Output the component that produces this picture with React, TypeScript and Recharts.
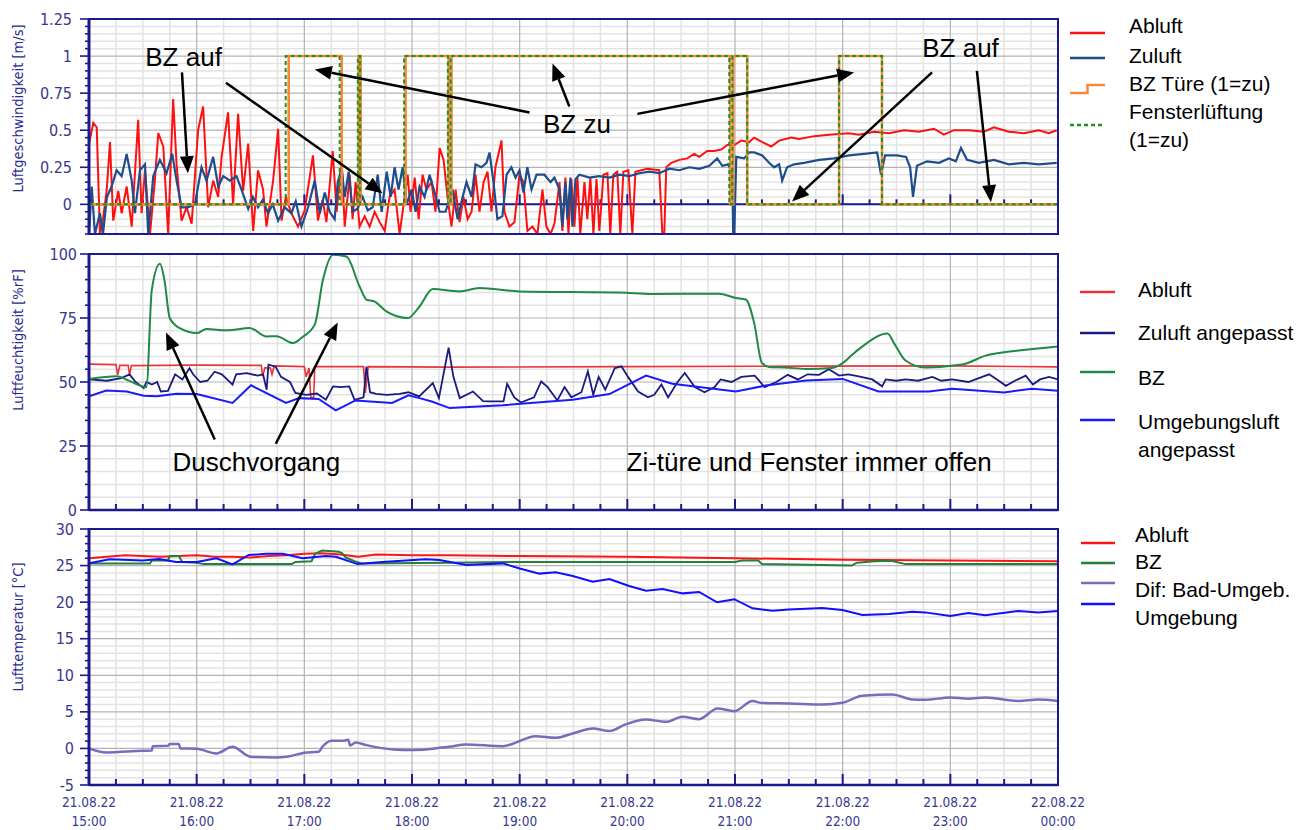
import React from 'react'
import {
  LineChart,
  Line,
  XAxis,
  YAxis,
  ReferenceLine,
  ReferenceArea,
  ReferenceDot,
} from 'recharts'

type Pt = [number, number]

const NAVY = '#1a1a8c'
const TICK_TEXT = '#38388e'
const GRID_MINOR = '#e3e3e3'
const GRID_MAJOR = '#b3b3b3'
const TICK_FONT = "'DejaVu Sans Condensed', 'DejaVu Sans', Verdana, sans-serif"
const TEXT_FONT = "'Liberation Sans', Arial, Helvetica, sans-serif"
const T_END = 540

// time axis: minutes after 21.08.22 15:00
const dateLabels = ['21.08.22', '21.08.22', '21.08.22', '21.08.22', '21.08.22', '21.08.22', '21.08.22', '21.08.22', '21.08.22', '22.08.22']
const hourLabels = ['15:00', '16:00', '17:00', '18:00', '19:00', '20:00', '21:00', '22:00', '23:00', '00:00']

// panel 1: Luftgeschwindigkeit [m/s]
const speedAbluft: Pt[] = [
  [0, 0.41], [2.4, 0.55], [4.3, 0.52], [6.1, -0.2], [7.8, -0.1], [9.9, 0.1], [11.7, 0.42], [13.5, -0.11], [16.3, 0.09], [18.2, -0.06],
  [21, 0.12], [23.8, -0.15], [27.4, 0.57], [29.3, -0.06], [31.2, 0.23], [34, -0.2], [36.7, 0.16], [38.6, 0.48], [41.4, 0.39], [44.1, -0.2],
  [46.9, 0.71], [48.8, 0.27], [51.6, -0.11], [54.4, -0.02], [57.2, -0.13], [60.8, 0.5], [63.6, 0.66], [66.4, -0.02], [69.2, 0.16], [72, 0.05],
  [73.9, 0.32], [77.5, 0.62], [80.3, 0], [83.1, 0.61], [85.9, 0.09], [88.7, 0.41], [91.5, -0.18], [94.2, 0.23], [97, 0.1], [98.9, -0.15],
  [102.6, 0.16], [105.4, 0.51], [107.3, -0.11], [109.7, 0.05], [112.8, -0.06], [116.5, -0.15], [120.2, -0.04], [124.8, 0.33], [127.6, -0.11], [130.2, 0.03],
  [132.3, -0.12], [135.8, 0.36], [138, -0.05], [140.8, 0.3], [142.5, -0.15], [145.3, 0.2], [146.9, -0.1], [148.6, 0.15], [150.8, -0.15], [153.6, -0.08],
  [156.4, -0.15], [159.2, -0.05], [162, -0.12], [164.8, -0.18], [167.5, 0.05], [170.3, 0.1], [173.1, -0.2], [175.9, 0.05], [177.6, 0.2], [179.2, -0.05],
  [181.5, 0.18], [183.7, -0.1], [185.9, 0.2], [188.1, 0.1], [190.9, 0.15], [193.1, -0.05], [195.4, 0.38], [197.6, 0.3], [199.8, 0.05], [202, -0.15],
  [204.3, 0.1], [206.5, -0.12], [208.7, 0.05], [211, -0.1], [213.2, -0.05], [215.4, 0.2], [217.6, -0.05], [219.9, 0.15], [222.1, 0.22], [224.3, -0.05],
  [226.5, 0.25], [229.9, 0.43], [231.5, -0.05], [234.3, -0.15], [237.1, -0.12], [239.9, 0.2], [242.1, 0.15], [244.3, -0.18], [247.1, -0.15], [249.9, -0.2],
  [252.7, 0.1], [254.9, -0.15], [257.2, -0.2], [259.4, -0.13], [262.2, 0.15], [263.8, -0.18], [265.5, 0.18], [267.2, -0.2], [268.8, 0.17], [270.5, -0.15],
  [272.2, 0.18], [273.8, -0.2], [276.1, 0.15], [277.7, -0.1], [279.4, 0.18], [281.1, -0.2], [282.8, 0.17], [284.4, -0.18], [286.7, 0.2], [288.9, 0.21],
  [290.5, -0.2], [292.2, 0.2], [294.4, 0.22], [296.1, -0.2], [297.8, 0.22], [300.6, 0.23], [302.8, -0.2], [304.5, 0.22], [307.8, 0.23], [311.1, 0.24],
  [317.8, 0.23], [319.5, -0.2], [320.6, -0.2], [321.7, 0.25], [324.5, 0.28], [329, 0.3], [333.4, 0.31], [337.3, 0.34], [340.1, 0.32], [344.5, 0.36],
  [348.4, 0.36], [352.3, 0.37], [355.7, 0.4], [359.6, 0.4], [363.5, 0.43], [367.9, 0.42], [370.7, 0.45], [375.2, 0.42], [380.2, 0.39], [384.6, 0.43],
  [391.3, 0.45], [395.7, 0.44], [404.1, 0.46], [412.4, 0.47], [423.6, 0.48], [429.1, 0.47], [437.5, 0.49], [445.8, 0.48], [454.2, 0.5], [462.5, 0.49],
  [470.9, 0.51], [476.4, 0.47], [482, 0.5], [490.3, 0.5], [498.7, 0.49], [504.3, 0.52], [512.6, 0.49], [521, 0.48], [529.3, 0.5], [534.9, 0.48], [539.3, 0.5],
]
const speedZuluft: Pt[] = [
  [0, -0.2], [1.5, 0.12], [3.3, -0.2], [6.1, -0.06], [7.8, -0.2], [10, 0.05], [12.6, 0.12], [15.4, 0.23], [18.2, 0.19], [21, 0.34],
  [23.8, 0.16], [25.6, -0.06], [28.4, 0.23], [31.2, 0.27], [33, -0.2], [35.8, 0.19], [39.5, 0.3], [43.2, 0.21], [46.4, 0.34], [48.8, 0.16],
  [51.6, -0.02], [55.1, -0.02], [59, 0], [62.7, 0.25], [65.5, 0.16], [69.2, 0.32], [72, 0.12], [74.8, 0.19], [78.5, 0.16], [82.2, 0.19],
  [85, 0.1], [88.7, -0.03], [91.3, 0.05], [94.2, -0.02], [96.8, 0.03], [99.8, -0.06], [102.4, 0], [105.4, -0.11], [109.1, -0.02], [112.8, -0.06],
  [115.2, 0.02], [118.4, -0.15], [122.1, -0.02], [125.8, 0.16], [128.6, -0.06], [131.4, 0.08], [134.1, -0.05], [136.9, -0.1], [138.6, 0.15], [140.8, 0.24],
  [142.5, 0.05], [144.7, 0.22], [146.9, -0.05], [149.7, -0.03], [152.5, 0.05], [155.3, -0.04], [158.1, -0.02], [160.9, 0.2], [163.1, -0.05], [165.9, 0.22],
  [168.1, 0.05], [170.3, 0.25], [172.5, 0.1], [174.8, 0.25], [177, 0], [179.8, 0.1], [182, -0.05], [184.2, 0.12], [187, 0.05], [189.8, 0.2],
  [192.6, 0.08], [195.4, -0.05], [198.7, -0.05], [202.6, 0.1], [205.4, -0.1], [208.2, 0.05], [210.4, 0.15], [213.2, 0.05], [215.4, 0.27], [218.7, 0.25],
  [221.5, 0.28], [223.2, 0.35], [225.4, 0.15], [227.6, -0.1], [230.4, -0.08], [232.7, 0.2], [235.4, 0.25], [237.7, 0.18], [239.9, 0.23], [242.1, 0.08],
  [244.3, 0.25], [246.6, 0.1], [249.4, 0.2], [253.8, 0.2], [257.2, 0.15], [259.4, 0.18], [262.2, 0.1], [263.8, -0.15], [265.5, 0.15], [266.6, -0.1],
  [268.3, 0.18], [269.4, -0.15], [271.1, 0.17], [273.3, 0.2], [278.9, 0.18], [284.4, 0.19], [290, 0.18], [295.6, 0.2], [301.1, 0.19], [306.7, 0.21],
  [312.3, 0.22], [317.8, 0.21], [323.4, 0.24], [329, 0.23], [334.5, 0.25], [340.1, 0.24], [345.7, 0.26], [350.1, 0.31], [352.9, 0.26], [356.2, 0.27],
  [358.5, 0.2], [359, -0.2], [359.6, -0.2], [360.7, 0.32], [365.1, 0.31], [367.9, 0.35], [370.7, 0.35], [375.2, 0.33], [379, 0.28], [381.8, 0.25],
  [384.6, 0.27], [386.3, 0.16], [389, 0.25], [392.9, 0.27], [398.5, 0.28], [406.9, 0.3], [415.2, 0.31], [423.6, 0.33], [431.9, 0.34], [439.2, 0.35],
  [441.4, 0.2], [443.6, 0.33], [450.3, 0.33], [455.3, 0.32], [457.6, 0.25], [459.2, 0.05], [461.4, 0.26], [467, 0.29], [473.7, 0.28], [479.2, 0.31],
  [483.1, 0.29], [485.9, 0.38], [489.3, 0.3], [495.9, 0.28], [504.3, 0.3], [512.6, 0.27], [521, 0.28], [529.3, 0.27], [539.3, 0.28],
]
const doorState: Pt[] = [
  [0, 0], [111.3, 1], [140.8, 0], [150.3, 1], [151.4, 0], [176.4, 1], [200.4, 0], [202, 1], [357.3, 0], [359, 1], [366.8, 0], [418, 1], [441.9, 0], [540, 0],
]
const windowState: Pt[] = [
  [0, 0], [109.6, 1], [139.7, 0], [149.8, 1], [151, 0], [175.6, 1], [200, 0], [201.5, 1], [356.8, 0], [358.5, 1], [366.8, 0], [418, 1], [441.9, 0], [540, 0],
]

// panel 2: Luftfeuchtigkeit [%rF]
const humAbluft: Pt[] = [
  [0, 57], [15, 56.8], [16, 52.8], [17.2, 56.5], [21.8, 56.5], [22.6, 52.8], [23.6, 56.4], [60, 56.6], [96, 56.5], [96.8, 52.2],
  [98, 55.5], [101, 55.5], [102, 53], [103.2, 56.3], [120, 56], [121, 52], [122.6, 55.5], [123.6, 43.9], [125.2, 43.9], [125.8, 56],
  [153, 56], [154, 45.7], [155.6, 56], [200, 55.8], [300, 56], [400, 56.2], [480, 56.3], [540, 55.9],
]
const humZuluft: Pt[] = [
  [0, 51], [10, 50.5], [18, 51.5], [22.6, 53], [26, 50], [30.5, 47.6], [32, 50], [35, 49], [38, 50], [40, 46.3],
  [44, 46.5], [48, 53], [52, 51], [56, 55.4], [58, 53], [62, 50], [66, 50.5], [70, 54], [74, 53], [80, 49],
  [82, 53], [88, 53.5], [94, 52.5], [97, 53], [99, 47], [100, 56.8], [104, 56], [107, 52], [112, 50], [115, 45.7],
  [121, 45], [127, 45.5], [132, 43.1], [136, 48.3], [140, 48], [145, 48.3], [148, 43], [153, 44], [154.6, 56], [156.6, 46],
  [160, 45.4], [166, 45], [173, 45.4], [178, 46], [184, 44.4], [191.6, 49.6], [195, 43.7], [200.4, 63.4], [203, 52.2], [206.6, 43.7],
  [214, 46.3], [219.6, 42.5], [223, 42.4], [231, 42.4], [233, 49.3], [237, 44], [240.7, 42], [248, 44], [252, 50.2], [255.6, 48],
  [261, 42.8], [265, 48], [268.8, 44], [274.4, 46], [278, 54.1], [281, 45], [284, 52], [287.7, 47], [293, 55.4], [296.7, 56.1],
  [300.4, 52], [306, 46.3], [311.5, 44], [315, 45], [319, 49], [322.7, 44], [328, 50], [332, 53.5], [337.6, 48], [343, 46],
  [348.6, 48], [352, 51], [358, 50], [363.5, 52], [371, 52.5], [376.5, 48], [383, 50], [389.4, 52.8], [395, 51], [400.5, 53],
  [406.8, 52.8], [412.3, 55], [418, 52.5], [423, 53], [429, 52.2], [436.5, 51], [442, 48.3], [444, 51], [450, 50.5], [455, 51],
  [462, 50.5], [470, 52], [475, 50.5], [481, 51], [490, 50], [501.6, 53], [506, 51], [511, 48.5], [516, 50.5], [522, 52.5],
  [526, 49], [530, 51], [535, 52], [540, 51],
]
const humBZ: Pt[] = [
  [0, 51.2], [15.5, 52.2], [21, 50.9], [30, 48.3], [32, 48], [35, 86], [39.5, 96.2], [42, 90], [45, 75], [50.6, 71],
  [60, 69.1], [65.5, 70.7], [76.6, 70.2], [89.6, 71.1], [98.9, 67.8], [104.5, 67.9], [113.7, 65.2], [119, 67.6], [125.8, 72.4], [130.4, 90],
  [136, 99.7], [143.4, 99], [150.8, 87.3], [154.6, 82.2], [159.2, 81.4], [165.7, 77.6], [177.7, 75], [184.2, 79.5], [191.6, 86.3], [206.5, 85.4],
  [217.6, 86.7], [240, 85.4], [295.5, 85], [314, 84.4], [351, 84.5], [360.5, 82.8], [366, 82.2], [370.7, 73], [375, 57.4], [379, 55.9],
  [388, 55.7], [399.5, 55.1], [414, 55.5], [420, 57.4], [425.4, 60.7], [431, 63.9], [445, 68.9], [448.6, 65.2], [455, 58.4], [466, 55.7],
  [486.6, 56.8], [499.6, 60.3], [518, 62.3], [540, 63.9],
]
const humUmgebung: Pt[] = [
  [0, 44.4], [9.6, 46.7], [21, 46.3], [30.5, 44.6], [37.8, 44.4], [48.8, 45.4], [60, 45.3], [80, 41.8], [90.3, 48.7], [109.8, 41.8],
  [117, 43.7], [128, 43.4], [137.5, 38.9], [148.5, 42.8], [168.9, 41.8], [178, 44.8], [184.2, 43.7], [191, 42.4], [201, 39.8], [230.5, 40.9],
  [269.5, 43.1], [290, 45.3], [310.4, 52.5], [325, 49.3], [360.5, 46.3], [377, 48.6], [399.5, 50.6], [420, 51.2], [440, 46.3], [468, 46.3],
  [481, 47.4], [510, 45.9], [525.5, 47.4], [540, 46.6],
]

// panel 3: Lufttemperatur [°C]
const tempAbluft: Pt[] = [
  [0, 26], [10, 26.2], [20, 26.4], [30, 26.3], [40, 26.2], [50, 26.3], [60, 26.4], [70, 26.2], [80, 26.2], [90, 26.1],
  [100, 26.3], [110, 26.4], [120, 26.6], [130, 26.7], [140, 26.5], [150, 26.2], [160, 26.5], [180, 26.4], [200, 26.4], [240, 26.3],
  [300, 26.2], [360, 26], [420, 25.8], [480, 25.7], [540, 25.6],
]
const tempBZ: Pt[] = [
  [0, 25.3], [34, 25.3], [35, 25.7], [44, 25.7], [45, 26.3], [50, 26.3], [52, 25.5], [60, 25.4], [64, 25.2], [113, 25.2],
  [115, 25.5], [124, 25.6], [126, 26.6], [130, 27.05], [139, 26.9], [141, 26.7], [143, 26.1], [148, 25.6], [152, 25.3], [200, 25.4],
  [240, 25.5], [360, 25.5], [364, 25.7], [373, 25.7], [375, 25.2], [425, 25], [428, 25.4], [438, 25.6], [447, 25.67], [455, 25.2], [540, 25.2],
]
const tempDif: Pt[] = [
  [0, 0], [9.6, -0.55], [30, -0.33], [35, -0.3], [35.5, 0.3], [44, 0.35], [45, 0.59], [50, 0.59], [51, 0], [60, -0.05],
  [71, -0.68], [80, 0.22], [90, -1.14], [104, -1.23], [111, -1.1], [120, -0.6], [128, -0.45], [130, 0.2], [135, 1.04], [141.6, 1.04],
  [144.5, 1.2], [145.5, 0.4], [148.6, 0.8], [154.6, 0.45], [169.5, -0.14], [180.6, -0.23], [191.6, -0.05], [195.3, 0.09], [200.6, 0.22], [210, 0.55],
  [230.6, 0.31], [249, 1.68], [260, 1.45], [269.5, 2.05], [280.7, 2.73], [290, 2.37], [299, 3.28], [310.4, 3.96], [321.5, 3.64], [330.8, 4.32],
  [340, 4], [350.2, 5.47], [359.6, 5.1], [369.8, 6.47], [375.3, 6.2], [390, 6.15], [408.7, 6], [419.8, 6.24], [431, 7.2], [447.6, 7.38],
  [458.8, 6.7], [466, 6.65], [480, 6.97], [490, 6.8], [499.6, 6.97], [518, 6.5], [529, 6.7], [540, 6.5],
]
const tempUmgebung: Pt[] = [
  [0, 25.3], [11.5, 25.85], [30, 25.7], [39, 25.9], [48.6, 25.5], [60, 25.5], [71, 26], [80, 25.17], [89, 26.45], [98.7, 26.6],
  [108, 26.6], [119, 26], [132, 26.3], [137.6, 26.2], [149.6, 25.2], [163.5, 25.5], [187.5, 25.85], [195.3, 25.76], [210.3, 25.08], [230.6, 25.3],
  [240, 24.6], [251, 23.9], [260, 24.1], [269.6, 23.57], [280.7, 22.8], [290, 23.16], [301, 22.2], [310.4, 21.57], [319.7, 21.8], [330.8, 21.2],
  [340, 21.4], [350, 19.98], [359.6, 20.4], [369.8, 19.16], [380.9, 18.83], [390, 19], [408.7, 19.2], [419.8, 18.93], [431, 18.24], [445.8, 18.38],
  [458.8, 18.7], [466, 18.6], [480, 18.1], [490, 18.5], [499.6, 18.2], [518, 18.8], [529, 18.6], [540, 18.8],
]

// annotations: [from t, from v, to t, to v]
const speedArrows: number[][] = [
  [51.8, 0.89, 55.1, 0.21], [76.3, 0.82, 163.6, 0.074], [245.5, 0.62, 125.8, 0.91], [267.7, 0.66, 258.3, 0.95],
  [305.6, 0.61, 426.4, 0.89], [469.8, 0.89, 391.8, 0.02], [494.8, 0.9, 502.6, 0.014],
]
const speedNotes = [
  { t: 52.7, v: 0.932, text: 'BZ auf' },
  { t: 271.9, v: 0.478, text: 'BZ zu' },
  { t: 485.7, v: 0.995, text: 'BZ auf' },
]
const humArrows: number[][] = [
  [70.1, 27.5, 42.9, 69.3], [104.1, 25.9, 138.6, 73.2],
]
const humNotes = [
  { t: 93.3, v: 15.1, text: 'Duschvorgang' },
  { t: 401.3, v: 15.1, text: 'Zi-türe und Fenster immer offen' },
]

interface Series {
  name: string
  lines: string[]
  data: Pt[]
  color: string
  width: number
  dash?: string
  curve?: 'linear' | 'monotone' | 'stepAfter'
  stepIcon?: boolean
}

const speedSeries: Series[] = [
  { name: 'Abluft', lines: ['Abluft'], data: speedAbluft, color: '#ff1010', width: 2 },
  { name: 'Zuluft', lines: ['Zuluft'], data: speedZuluft, color: '#1f4d8c', width: 2.2 },
  { name: 'BZ Türe (1=zu)', lines: ['BZ Türe (1=zu)'], data: doorState, color: '#f7873a', width: 2.6, curve: 'stepAfter', stepIcon: true },
  { name: 'Fensterlüftung (1=zu)', lines: ['Fensterlüftung', '(1=zu)'], data: windowState, color: '#1e9420', width: 2, dash: '4 3', curve: 'stepAfter' },
]
const humSeries: Series[] = [
  { name: 'Abluft', lines: ['Abluft'], data: humAbluft, color: '#e8343a', width: 1.6 },
  { name: 'Zuluft angepasst', lines: ['Zuluft angepasst'], data: humZuluft, color: '#1a1a80', width: 1.8 },
  { name: 'BZ', lines: ['BZ'], data: humBZ, color: '#1f8a45', width: 2, curve: 'monotone' },
  { name: 'Umgebungsluft angepasst', lines: ['Umgebungsluft', 'angepasst'], data: humUmgebung, color: '#1a1aff', width: 2 },
]
const tempSeries: Series[] = [
  { name: 'Abluft', lines: ['Abluft'], data: tempAbluft, color: '#ff1414', width: 2 },
  { name: 'BZ', lines: ['BZ'], data: tempBZ, color: '#23803a', width: 2 },
  { name: 'Dif: Bad-Umgeb.', lines: ['Dif: Bad-Umgeb.'], data: tempDif, color: '#7b6bbd', width: 2.5, curve: 'monotone' },
  { name: 'Umgebung', lines: ['Umgebung'], data: tempUmgebung, color: '#1010ff', width: 2 },
]

function steps(from: number, to: number, step: number) {
  const out: number[] = []
  const n = Math.round((to - from) / step)
  for (let i = 0; i <= n; i++) out.push(Math.round((from + i * step) * 1000) / 1000)
  return out
}

const timeTicks = steps(0, T_END, 15)

function pts(a: Pt[]) {
  return a.map(([t, v]) => ({ t, v }))
}

function isMultiple(v: number, step: number) {
  return Math.abs(v / step - Math.round(v / step)) < 1e-6
}

function gridLines(yTicks: number[], yMajor: number) {
  const minor: React.ReactElement[] = []
  const major: React.ReactElement[] = []
  const lo = yTicks[0]
  const hi = yTicks[yTicks.length - 1]
  for (const t of timeTicks) {
    if (t <= 0 || t >= T_END) continue
    const maj = t % 60 === 0
    const el = (
      <ReferenceLine key={`gx${t}`} x={t} stroke={maj ? GRID_MAJOR : GRID_MINOR} strokeWidth={maj ? 1.2 : 1.5} zIndex={-100} />
    )
    if (maj) major.push(el)
    else minor.push(el)
  }
  for (const v of yTicks) {
    if (v <= lo || v >= hi) continue
    const maj = isMultiple(v, yMajor)
    const el = (
      <ReferenceLine key={`gy${v}`} y={v} stroke={maj ? GRID_MAJOR : GRID_MINOR} strokeWidth={maj ? 1.2 : 1.5} zIndex={-100} />
    )
    if (maj) major.push(el)
    else minor.push(el)
  }
  return [...minor, ...major]
}

function YTick(props: any) {
  const { x, y, payload, major, gap } = props
  const v = payload.value
  const maj = isMultiple(v, major)
  return (
    <g>
      <line x1={x} y1={y} x2={x - (maj ? 9 : 4)} y2={y} stroke={NAVY} strokeWidth={1.6} />
      {maj && (
        <text x={x - gap} y={y + 5.5} textAnchor="end" fontSize={16} fontFamily={TICK_FONT} fill={TICK_TEXT}>
          {String(v)}
        </text>
      )}
    </g>
  )
}

function XTick(props: any) {
  const { x, y, payload, labels } = props
  const t = payload.value
  const maj = t % 60 === 0
  const i = Math.round(t / 60)
  return (
    <g>
      <line x1={x} y1={y} x2={x} y2={y - (maj ? 11 : 6)} stroke={NAVY} strokeWidth={2} />
      {labels && maj && (
        <text x={x} y={y + 22} textAnchor="middle" fontSize={13.5} fontFamily={TICK_FONT} fill={TICK_TEXT}>
          <tspan x={x}>{dateLabels[i]}</tspan>
          <tspan x={x} dy={19}>{hourLabels[i]}</tspan>
        </text>
      )}
    </g>
  )
}

function YTitle(props: any) {
  const { viewBox, text, dy } = props
  const x = viewBox.x + 18
  const y = viewBox.y + viewBox.height / 2 + dy
  return (
    <text
      x={x}
      y={y}
      transform={`rotate(-90 ${x} ${y})`}
      textAnchor="middle"
      dominantBaseline="central"
      fontSize={14.5}
      fontFamily={TICK_FONT}
      fill="#2a2a90"
    >
      {text}
    </text>
  )
}

function ZeroAxis(props: any) {
  const { x1, x2, y1 } = props
  const span = x2 - x1
  return (
    <g>
      <line x1={x1} x2={x2} y1={y1} y2={y1} stroke={NAVY} strokeWidth={2} />
      {timeTicks.map((t) => {
        const x = x1 + (span * t) / T_END
        return <line key={t} x1={x} x2={x} y1={y1} y2={y1 - (t % 60 === 0 ? 10 : 5)} stroke={NAVY} strokeWidth={2} />
      })}
    </g>
  )
}

function Arrow(props: any) {
  const { x1, y1, x2, y2 } = props
  const ang = Math.atan2(y2 - y1, x2 - x1)
  const L = 17
  const Wd = 7
  const bx = x2 - L * Math.cos(ang)
  const by = y2 - L * Math.sin(ang)
  const px = -Math.sin(ang) * Wd
  const py = Math.cos(ang) * Wd
  return (
    <g>
      <line x1={x1} y1={y1} x2={bx} y2={by} stroke="#000" strokeWidth={2.5} />
      <polygon points={`${x2},${y2} ${bx + px},${by + py} ${bx - px},${by - py}`} fill="#000" />
    </g>
  )
}

function arrows(list: number[][], prefix: string) {
  return list.map((a, i) => (
    <ReferenceLine
      key={`${prefix}${i}`}
      segment={[{ x: a[0], y: a[1] }, { x: a[2], y: a[3] }]}
      shape={(p: any) => <Arrow {...p} />}
      zIndex={1500}
    />
  ))
}

function notes(list: { t: number; v: number; text: string }[], prefix: string) {
  return list.map((n, i) => (
    <ReferenceDot
      key={`${prefix}${i}`}
      x={n.t}
      y={n.v}
      r={0}
      zIndex={1500}
      shape={(p: any) => (
        <text x={p.cx} y={p.cy} textAnchor="middle" fontSize={26} fontFamily={TEXT_FONT} fill="#000">
          {n.text}
        </text>
      )}
    />
  ))
}

function seriesLines(list: Series[]) {
  return list.map((s) => (
    <Line
      key={s.name}
      name={s.name}
      data={pts(s.data)}
      dataKey="v"
      type={s.curve ?? 'linear'}
      stroke={s.color}
      strokeWidth={s.width}
      strokeDasharray={s.dash}
      dot={false}
      activeDot={false}
      isAnimationActive={false}
    />
  ))
}

function frame(lo: number, hi: number) {
  return (
    <ReferenceArea x1={0} x2={T_END} y1={lo} y2={hi} fill="none" stroke={NAVY} strokeWidth={2} zIndex={1400} />
  )
}

const speedTicks = steps(-0.2, 1.25, 0.05)
const humTicks = steps(0, 100, 5)
const tempTicks = steps(-5, 30, 1)

const MARGIN_RIGHT = 256

function SpeedChart() {
  return (
    <LineChart width={1314} height={250} margin={{ top: 19, right: MARGIN_RIGHT, bottom: 16, left: 0 }}>
      <XAxis dataKey="t" type="number" domain={[0, T_END]} ticks={timeTicks} allowDataOverflow hide />
      <YAxis
        type="number"
        domain={[-0.2, 1.25]}
        ticks={speedTicks}
        interval={0}
        allowDataOverflow
        width={89}
        tickSize={0}
        tickMargin={0}
        axisLine={{ stroke: NAVY, strokeWidth: 3 }}
        tick={<YTick major={0.25} gap={17} />}
        label={<YTitle text="Luftgeschwindigkeit [m/s]" dy={-18} />}
      />
      {gridLines(speedTicks, 0.25)}
      <ReferenceLine y={0} shape={(p: any) => <ZeroAxis {...p} />} zIndex={50} />
      {seriesLines(speedSeries)}
      {frame(-0.2, 1.25)}
      {arrows(speedArrows, 'sa')}
      {notes(speedNotes, 'sn')}
    </LineChart>
  )
}

function HumidityChart() {
  return (
    <LineChart width={1314} height={285} margin={{ top: 14, right: MARGIN_RIGHT, bottom: 14, left: 0 }}>
      <XAxis
        dataKey="t"
        type="number"
        domain={[0, T_END]}
        ticks={timeTicks}
        interval={0}
        allowDataOverflow
        height={1}
        tickSize={0}
        tickMargin={0}
        axisLine={{ stroke: NAVY, strokeWidth: 2.5 }}
        tick={<XTick labels={false} />}
      />
      <YAxis
        type="number"
        domain={[0, 100]}
        ticks={humTicks}
        interval={0}
        allowDataOverflow
        width={89}
        tickSize={0}
        tickMargin={0}
        axisLine={{ stroke: NAVY, strokeWidth: 3 }}
        tick={<YTick major={25} gap={12} />}
        label={<YTitle text="Luftfeuchtigkeit [%rF]" dy={-42} />}
      />
      {gridLines(humTicks, 25)}
      {seriesLines(humSeries)}
      {frame(0, 100)}
      {arrows(humArrows, 'ha')}
      {notes(humNotes, 'hn')}
    </LineChart>
  )
}

function TempChart() {
  return (
    <LineChart width={1314} height={315} margin={{ top: 14, right: MARGIN_RIGHT, bottom: 0, left: 0 }}>
      <XAxis
        dataKey="t"
        type="number"
        domain={[0, T_END]}
        ticks={timeTicks}
        interval={0}
        allowDataOverflow
        height={45}
        tickSize={0}
        tickMargin={0}
        axisLine={{ stroke: NAVY, strokeWidth: 2.5 }}
        tick={<XTick labels />}
      />
      <YAxis
        type="number"
        domain={[-5, 30]}
        ticks={tempTicks}
        interval={0}
        allowDataOverflow
        width={89}
        tickSize={0}
        tickMargin={0}
        axisLine={{ stroke: NAVY, strokeWidth: 3 }}
        tick={<YTick major={5} gap={15} />}
        label={<YTitle text="Lufttemperatur [°C]" dy={-30} />}
      />
      {gridLines(tempTicks, 5)}
      {seriesLines(tempSeries)}
      {frame(-5, 30)}
    </LineChart>
  )
}

interface LegendLayout {
  x0: number
  x1: number
  textX: number
  iconYs: number[]
  textYs: number[][]
}

const speedLegend: LegendLayout = { x0: 1070, x1: 1105, textX: 1129, iconYs: [33, 58, 89, 125], textYs: [[33], [63], [91], [119, 147]] }
const humLegend: LegendLayout = { x0: 1080, x1: 1115, textX: 1138, iconYs: [292, 333, 372, 420], textYs: [[297], [340], [385], [429, 457]] }
const tempLegend: LegendLayout = { x0: 1081, x1: 1115, textX: 1135, iconYs: [543, 563, 583, 604], textYs: [[542], [569], [597], [625]] }

function LegendBlock({ series, layout }: { series: Series[]; layout: LegendLayout }) {
  const { x0, x1, textX, iconYs, textYs } = layout
  return (
    <g>
      {series.map((s, i) => {
        const y = iconYs[i]
        const mid = (x0 + x1) / 2
        return (
          <g key={s.name}>
            {s.stepIcon ? (
              <path d={`M${x0} ${y + 4} H${mid} V${y - 4} H${x1}`} fill="none" stroke={s.color} strokeWidth={2.5} />
            ) : (
              <line x1={x0} x2={x1} y1={y} y2={y} stroke={s.color} strokeWidth={2.5} strokeDasharray={s.dash} />
            )}
            {s.lines.map((ln, k) => (
              <text key={k} x={textX} y={textYs[i][k]} fontSize={21} fontFamily={TEXT_FONT} fill="#000">
                {ln}
              </text>
            ))}
          </g>
        )
      })}
    </g>
  )
}

export default function App() {
  return (
    <div style={{ position: 'absolute', left: 0, top: 0, width: 1314, height: 830, background: '#fff', overflow: 'hidden' }}>
      <div style={{ position: 'absolute', left: 0, top: 0 }}>
        <SpeedChart />
      </div>
      <div style={{ position: 'absolute', left: 0, top: 240 }}>
        <HumidityChart />
      </div>
      <div style={{ position: 'absolute', left: 0, top: 515 }}>
        <TempChart />
      </div>
      <svg width={1314} height={830} style={{ position: 'absolute', left: 0, top: 0, pointerEvents: 'none' }}>
        <LegendBlock series={speedSeries} layout={speedLegend} />
        <LegendBlock series={humSeries} layout={humLegend} />
        <LegendBlock series={tempSeries} layout={tempLegend} />
      </svg>
    </div>
  )
}
